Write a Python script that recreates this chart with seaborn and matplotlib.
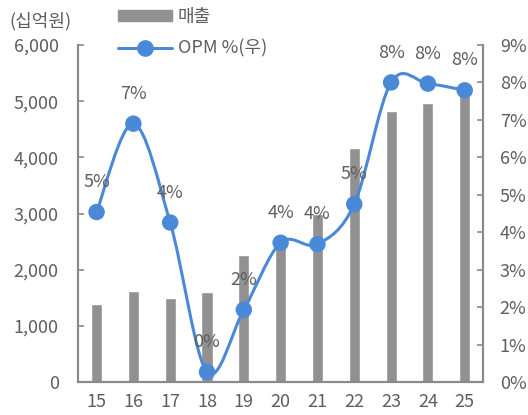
import numpy as np
import pandas as pd
import seaborn as sns
import matplotlib.pyplot as plt
from matplotlib.path import Path
from matplotlib.patches import Patch, PathPatch
from matplotlib.lines import Line2D
from matplotlib.ticker import FuncFormatter

years = ['15', '16', '17', '18', '19', '20', '21', '22', '23', '24', '25']
sales = [1390, 1620, 1490, 1600, 2260, 2470, 3000, 4170, 4830, 4970, 5170]
opm = [4.54, 6.90, 4.26, 0.27, 1.93, 3.72, 3.68, 4.75, 8.00, 7.97, 7.79]
opm_labels = ['5%', '7%', '4%', '0%', '2%', '4%', '4%', '5%', '8%', '8%', '8%']

BAR = '#919191'
BLUE = '#4a88d8'
TXT = '#5e5e5e'
AX = '#8a8a8a'
FS = 13

sns.set_style('white')
plt.rcParams['font.family'] = ['Noto Sans CJK KR', 'DejaVu Sans']

df = pd.DataFrame({'year': years, 'sales': sales, 'opm': opm})

fig = plt.figure(figsize=(5.28, 4.15), dpi=100)
ax = fig.add_axes([0.148, 0.0795, 0.767, 0.812])
sns.barplot(data=df, x='year', y='sales', color=BAR, width=0.3, saturation=1, ax=ax)
ax.set_xlim(-0.5, len(years) - 0.5)
ax.set_ylim(0, 6000)
ax.set_yticks(range(0, 6001, 1000))
ax.yaxis.set_major_formatter(FuncFormatter(lambda v, p: f'{int(v):,}'))
ax.set_xlabel('')
ax.set_ylabel('')
ax.set_xticks(np.arange(len(years)) - 0.5, minor=True)
ax.tick_params(axis='x', which='major', length=0, labelsize=FS, colors=TXT, pad=8)
ax.tick_params(axis='x', which='minor', direction='in', length=4, color=AX, width=1.2)
ax.tick_params(axis='y', direction='in', length=4, color=AX, width=1.2, labelsize=FS, colors=TXT, pad=14)

ax2 = ax.twinx()
ax2.set_ylim(0, 9)
ax2.set_yticks(range(0, 10))
ax2.yaxis.set_major_formatter(FuncFormatter(lambda v, p: f'{int(v)}%'))
ax2.tick_params(axis='y', direction='in', length=4, color=AX, width=1.2, labelsize=FS, colors=TXT, pad=12)

for a in (ax, ax2):
    a.spines['top'].set_visible(False)
    for s in ('left', 'right', 'bottom'):
        a.spines[s].set_color(AX)
        a.spines[s].set_linewidth(1.5)

# smoothed line like Excel (cubic bezier through the points)
xs = np.arange(len(opm), dtype=float)
pts = np.column_stack([xs, opm])
verts = [tuple(pts[0])]
codes = [Path.MOVETO]
n = len(pts)
for i in range(n - 1):
    p0 = pts[max(i - 1, 0)]
    p1 = pts[i]
    p2 = pts[i + 1]
    p3 = pts[min(i + 2, n - 1)]
    c1 = p1 + (p2 - p0) / 6
    c2 = p2 - (p3 - p1) / 6
    verts += [tuple(c1), tuple(c2), tuple(p2)]
    codes += [Path.CURVE4] * 3
ax2.add_patch(PathPatch(Path(verts, codes), fill=False, edgecolor=BLUE, lw=2.2, zorder=3))
sns.scatterplot(x=xs, y=opm, color=BLUE, s=140, edgecolor='none', ax=ax2, zorder=4)

for x, y, lab in zip(xs, opm, opm_labels):
    ax2.annotate(lab, (x, y), xytext=(0, 15), textcoords='offset points',
                 ha='center', va='bottom', fontsize=FS, color=TXT)

fig.text(0.018, 0.95, '(십억원)', fontsize=FS, color=TXT, va='center')

handles = [Patch(color=BAR), Line2D([0], [0], color=BLUE, lw=2.2, marker='o', markersize=11)]
fig.legend(handles, ['매출', 'OPM %(우)'], loc='upper left', bbox_to_anchor=(0.21, 0.998),
           frameon=False, fontsize=FS, labelcolor=TXT, handlelength=3.0, handleheight=0.5,
           labelspacing=0.75, handletextpad=0.3, borderaxespad=0)

fig.savefig('out.png', dpi=100)
